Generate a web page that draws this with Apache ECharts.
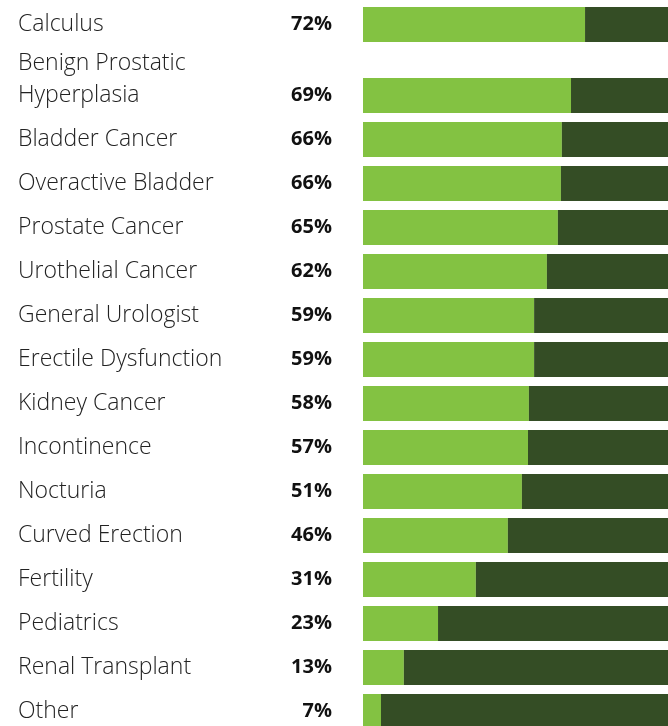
<!DOCTYPE html>
<html>
<head>
<meta charset="utf-8">
<script src="https://cdn.jsdelivr.net/npm/echarts@6/dist/echarts.min.js"></script>
<style>
  html, body { margin: 0; padding: 0; background: #ffffff; }
  #chart { width: 668px; height: 726px; }
</style>
</head>
<body>
<div id="chart"></div>
<script>
// Categories (top to bottom)
const categories = [
  'Calculus', 'Benign Prostatic\nHyperplasia', 'Bladder Cancer', 'Overactive Bladder',
  'Prostate Cancer', 'Urothelial Cancer', 'General Urologist', 'Erectile Dysfunction',
  'Kidney Cancer', 'Incontinence', 'Nocturia', 'Curved Erection', 'Fertility',
  'Pediatrics', 'Renal Transplant', 'Other'
];
// Printed percentage labels
const percentLabels = ['72%', '69%', '66%', '66%', '65%', '62%', '59%', '59%', '58%', '57%', '51%', '46%', '31%', '23%', '13%', '7%'];
// Light-green segment lengths (share of the visible bar track)
const greenValues = [72.8, 68.2, 65.2, 64.9, 63.9, 60.3, 56.1, 56.1, 54.4, 54.1, 52.1, 47.5, 37.0, 24.6, 13.4, 5.9];
// Dark-green remainder of each bar
const darkValues = greenValues.map(v => +(100 - v).toFixed(1));

const GREEN = '#83c242';
const DARK = '#344d25';
const TEXT = '#222222';
const FONT = "'Open Sans', 'Noto Sans', sans-serif";

const chart = echarts.init(document.getElementById('chart'), null, { renderer: 'canvas' });

// Split into first row and the remaining rows (extra gap after the first row)
const cat1 = categories.slice(0, 1), cat2 = categories.slice(1);
const g1 = greenValues.slice(0, 1), g2 = greenValues.slice(1);
const d1 = darkValues.slice(0, 1), d2 = darkValues.slice(1);
const p1 = percentLabels.slice(0, 1), p2 = percentLabels.slice(1);

function yAxisFor(idx, cats) {
  return {
    type: 'category', gridIndex: idx, data: cats, inverse: true,
    axisLine: { show: false }, axisTick: { show: false },
    axisLabel: {
      interval: 0, hideOverlap: false,
      align: 'left', margin: 345, color: TEXT, fontFamily: FONT,
      fontSize: 23, fontWeight: 300, lineHeight: 32,
      formatter: v => v.indexOf('\n') >= 0 ? v + '\n\u00a0' : v
    }
  };
}
function xAxisFor(idx) {
  return {
    type: 'value', gridIndex: idx, min: 0, max: 100,
    show: false, splitLine: { show: false }
  };
}
function seriesFor(idx, g, d, p) {
  return [
    {
      type: 'bar', xAxisIndex: idx, yAxisIndex: idx, stack: 's' + idx,
      data: g, barWidth: 35, itemStyle: { color: GREEN }, silent: true,
      label: {
        show: true, position: 'left', distance: 31,
        formatter: params => p[params.dataIndex],
        color: '#111111', fontFamily: FONT, fontSize: 20, fontWeight: 'bold'
      }
    },
    {
      type: 'bar', xAxisIndex: idx, yAxisIndex: idx, stack: 's' + idx,
      data: d, barWidth: 35, itemStyle: { color: DARK }, silent: true
    }
  ];
}

chart.setOption({
  animation: false,
  backgroundColor: '#ffffff',
  grid: [
    { left: 363, right: 0, top: 7, height: 35, outerBoundsMode: 'none', containLabel: false },
    { left: 363, right: 0, top: 73.5, height: 660, outerBoundsMode: 'none', containLabel: false }
  ],
  xAxis: [xAxisFor(0), xAxisFor(1)],
  yAxis: [yAxisFor(0, cat1), yAxisFor(1, cat2)],
  series: [...seriesFor(0, g1, d1, p1), ...seriesFor(1, g2, d2, p2)]
});
</script>
</body>
</html>
